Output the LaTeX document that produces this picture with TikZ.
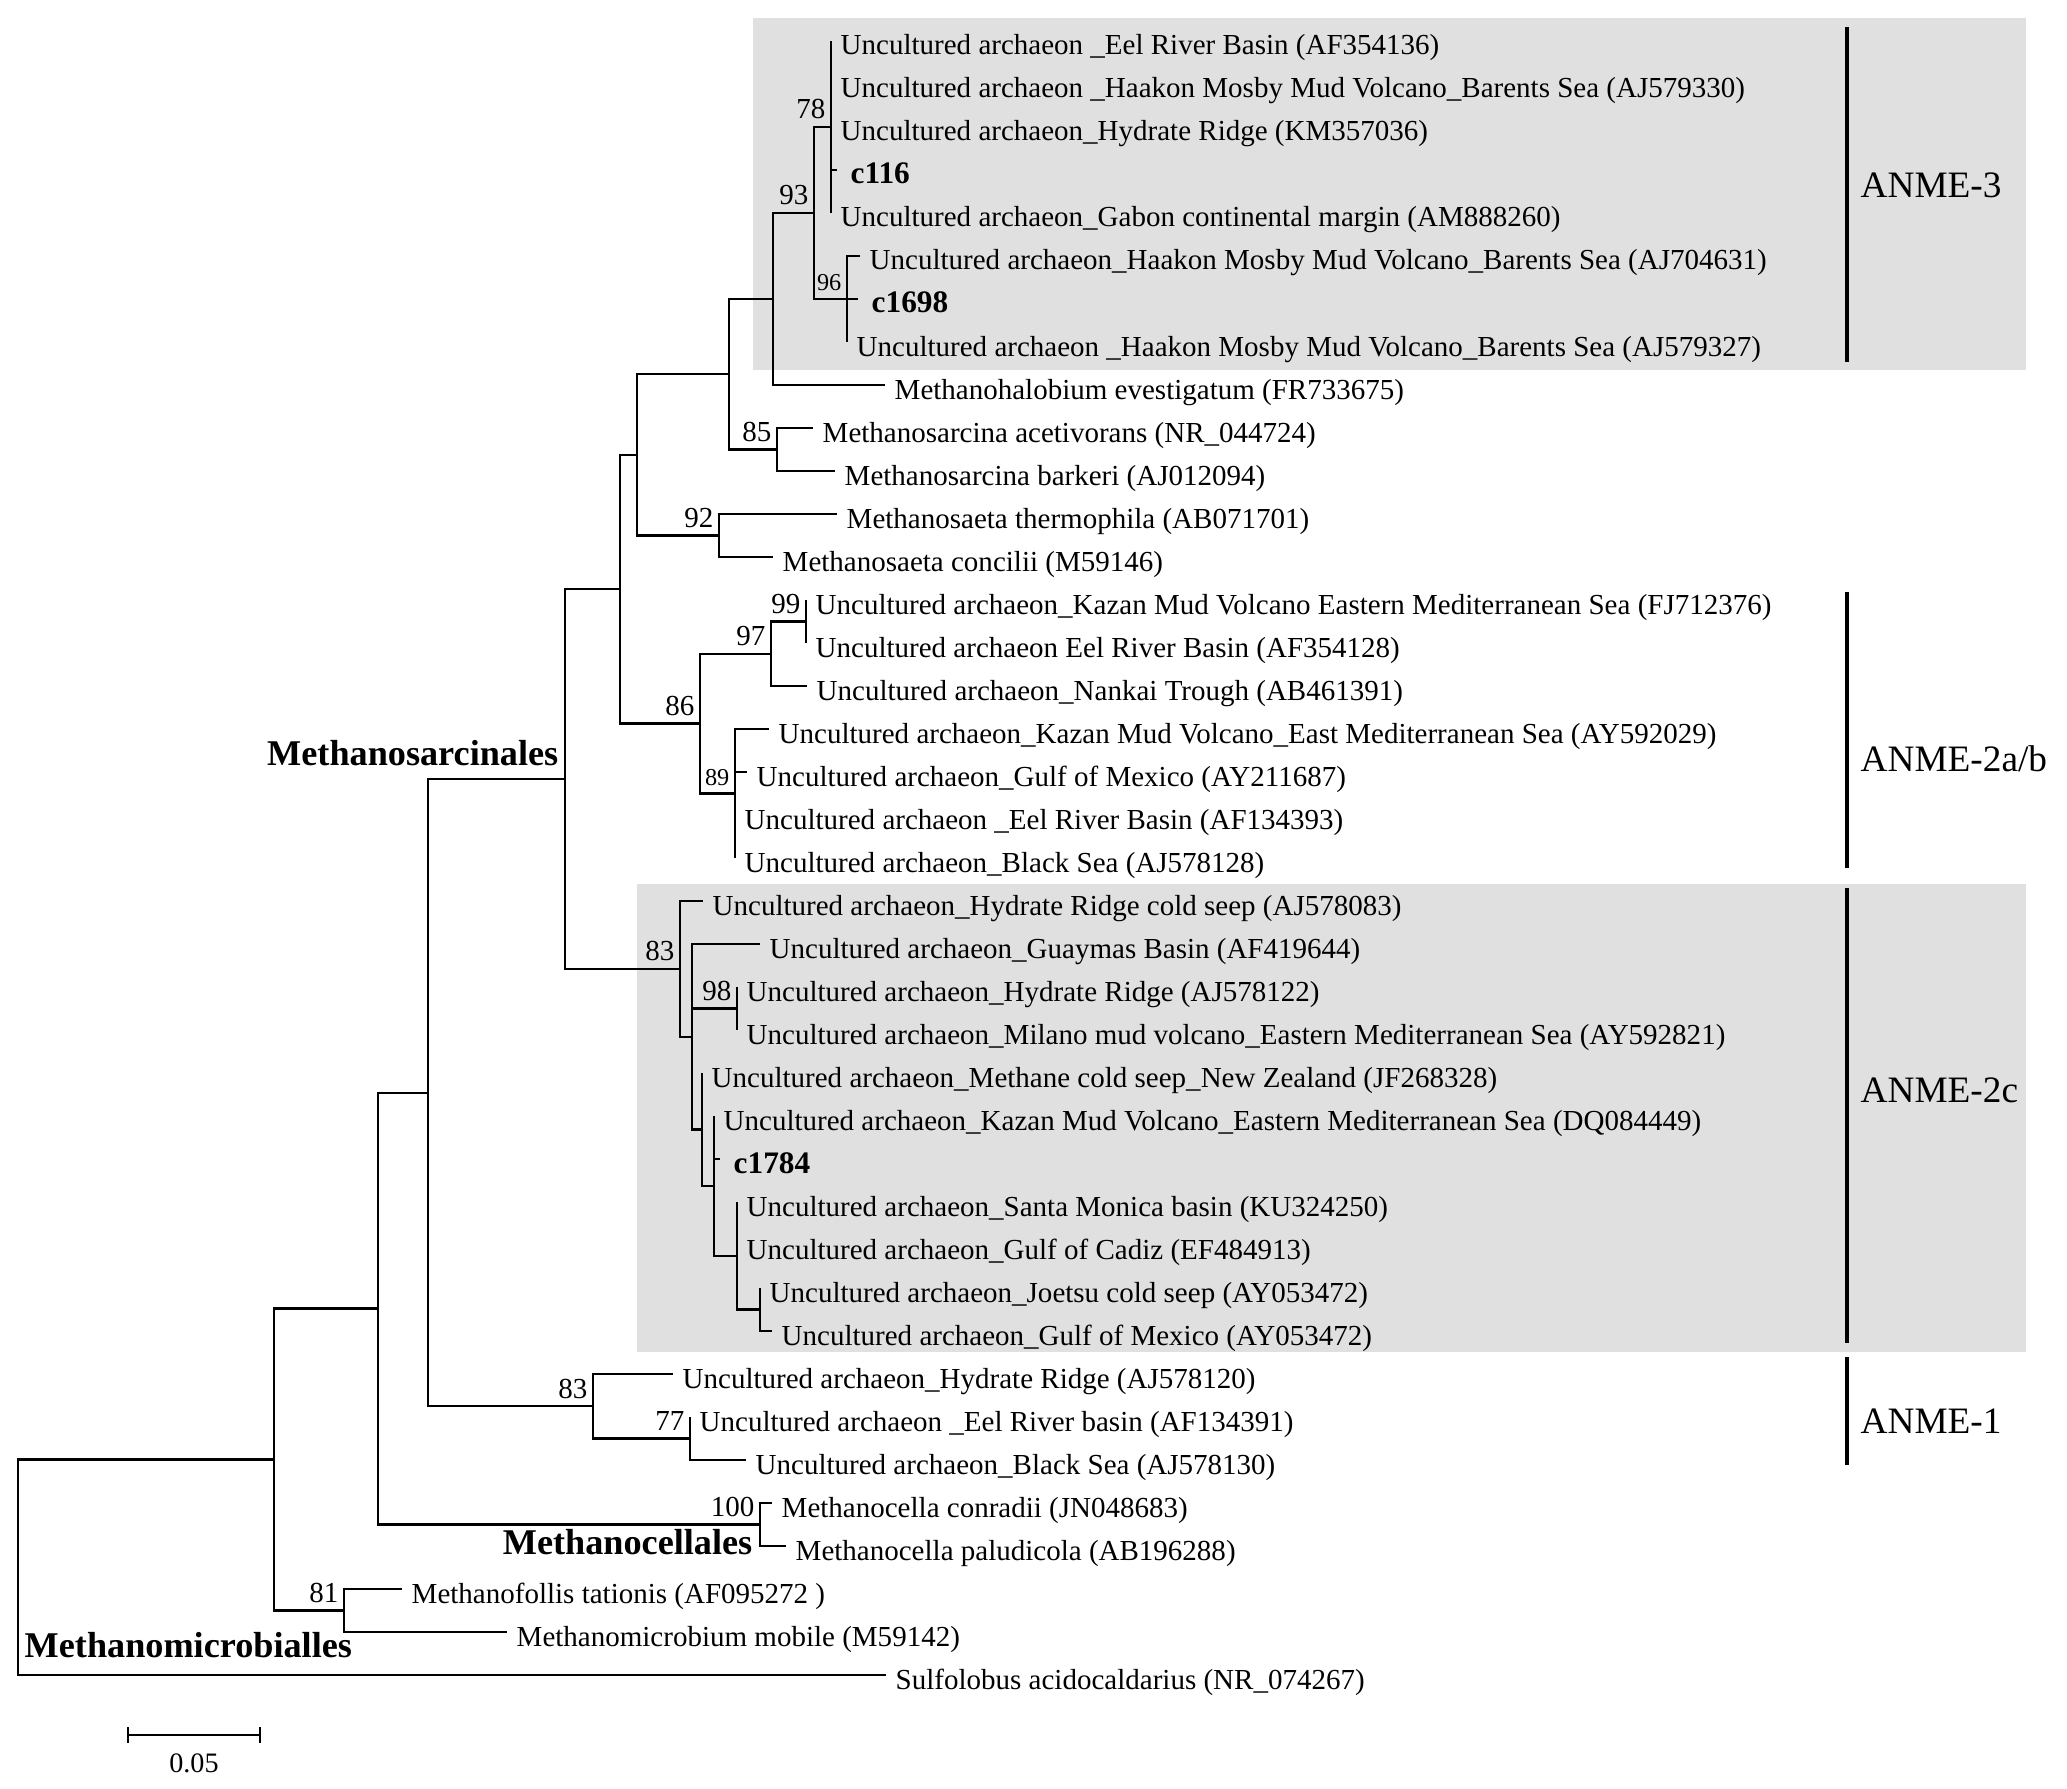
\documentclass[tikz,border=0pt]{standalone}
\usepackage{fontspec}
\setmainfont{Liberation Serif}
\definecolor{cladegray}{RGB}{224,224,224}

\tikzset{
  tree/.style={line width=0.65pt},
  bar/.style={line width=1.4pt},
  leaf/.style={anchor=base west, inner sep=0pt, xshift=0.09cm, yshift=-0.14cm,
    font=\fontsize{8.25}{10}\selectfont},
  ours/.style={leaf, xshift=0.04cm, font=\fontsize{8.9}{10}\selectfont\bfseries},
  boot/.style={anchor=base east, inner sep=0pt, xshift=-0.05cm, yshift=0.08cm,
    font=\fontsize{8.25}{10}\selectfont},
  smallboot/.style={boot, font=\fontsize{6.9}{8}\selectfont},
  order/.style={inner sep=0pt, font=\fontsize{10.3}{12}\selectfont\bfseries},
  group/.style={anchor=base west, inner sep=0pt, font=\fontsize{10.6}{12}\selectfont},
}

\begin{document}
\begin{tikzpicture}[x=0.01cm,y=-0.01cm]
  \useasboundingbox (0,0) rectangle (2067,1789);
  % shaded clades
  \fill[cladegray] (753,18) rectangle (2026,370);
  \fill[cladegray] (637,884) rectangle (2026,1352);

  % leaf tips, one row every 43 units
  \foreach \tx [count=\i] in {831,831,831,837,831,860,858,847,885,813,835,837,773,
      806,806,807,769,747,735,735,703,760,737,737,702,714,720,737,737,760,772,
      673,690,746,772,786,402,507,886}
    \coordinate (l\i) at (\tx,{41+43*(\i-1)});

  % inner nodes
  \coordinate (n78) at (831,127);
  \coordinate (n96) at (847,299);
  \coordinate (n93) at (814,213);
  \coordinate (nhal) at (773,299);
  \coordinate (n85) at (777,449.5);
  \coordinate (nsar) at (729,374.3);
  \coordinate (n92) at (719,535.5);
  \coordinate (nsae) at (637,454.9);
  \coordinate (n99) at (806,621.5);
  \coordinate (n97) at (771,653.8);
  \coordinate (n89) at (735,793.5);
  \coordinate (n86) at (700,723.6);
  \coordinate (nab) at (620,589.3);
  \coordinate (n98) at (737,1008.5);
  \coordinate (n760) at (760,1309.5);
  \coordinate (n737) at (737,1255.8);
  \coordinate (n714) at (714,1185.9);
  \coordinate (n702) at (702,1129.4);
  \coordinate (n692) at (692,1036.7);
  \coordinate (n83c) at (680,968.9);
  \coordinate (nmsar) at (565,779.1);
  \coordinate (n77) at (690,1438.5);
  \coordinate (n83a) at (593,1406.3);
  \coordinate (nanme) at (428,1092.7);
  \coordinate (n100) at (760,1524.5);
  \coordinate (ncel) at (378,1308.6);
  \coordinate (n81) at (344,1610.5);
  \coordinate (nmic) at (274,1459.6);
  \coordinate (root) at (18,1567.3);

  % branches
  \draw[tree] (n78) |- (l1) (n78) |- (l2) (n78) |- (l3) (n78) |- (l4) (n78) |- (l5);
  \draw[tree] (n96) |- (l6) (n96) |- (l7) (n96) |- (l8);
  \draw[tree] (n93) |- (n78) (n93) |- (n96);
  \draw[tree] (nhal) |- (n93) (nhal) |- (l9);
  \draw[tree] (n85) |- (l10) (n85) |- (l11);
  \draw[tree] (nsar) |- (nhal) (nsar) |- (n85);
  \draw[tree] (n92) |- (l12) (n92) |- (l13);
  \draw[tree] (nsae) |- (nsar) (nsae) |- (n92);
  \draw[tree] (n99) |- (l14) (n99) |- (l15);
  \draw[tree] (n97) |- (n99) (n97) |- (l16);
  \draw[tree] (n89) |- (l17) (n89) |- (l18) (n89) |- (l19) (n89) |- (l20);
  \draw[tree] (n86) |- (n97) (n86) |- (n89);
  \draw[tree] (nab) |- (nsae) (nab) |- (n86);
  \draw[tree] (n98) |- (l23) (n98) |- (l24);
  \draw[tree] (n760) |- (l30) (n760) |- (l31);
  \draw[tree] (n737) |- (l28) (n737) |- (l29) (n737) |- (n760);
  \draw[tree] (n714) |- (l26) (n714) |- (l27) (n714) |- (n737);
  \draw[tree] (n702) |- (l25) (n702) |- (n714);
  \draw[tree] (n692) |- (l22) (n692) |- (n98) (n692) |- (n702);
  \draw[tree] (n83c) |- (l21) (n83c) |- (n692);
  \draw[tree] (nmsar) |- (nab) (nmsar) |- (n83c);
  \draw[tree] (n77) |- (l33) (n77) |- (l34);
  \draw[tree] (n83a) |- (l32) (n83a) |- (n77);
  \draw[tree] (nanme) |- (nmsar) (nanme) |- (n83a);
  \draw[tree] (n100) |- (l35) (n100) |- (l36);
  \draw[tree] (ncel) |- (nanme) (ncel) |- (n100);
  \draw[tree] (n81) |- (l37) (n81) |- (l38);
  \draw[tree] (nmic) |- (ncel) (nmic) |- (n81);
  \draw[tree] (root) |- (nmic) (root) |- (l39);

  % taxa
  \node[leaf] (t1) at (l1) {Uncultured archaeon \_Eel River Basin (AF354136)};
  \node[leaf] (t2) at (l2) {Uncultured archaeon \_Haakon Mosby Mud Volcano\_Barents Sea (AJ579330)};
  \node[leaf] (t3) at (l3) {Uncultured archaeon\_Hydrate Ridge (KM357036)};
  \node[ours] (t4) at (l4) {c116};
  \node[leaf] (t5) at (l5) {Uncultured archaeon\_Gabon continental margin (AM888260)};
  \node[leaf] (t6) at (l6) {Uncultured archaeon\_Haakon Mosby Mud Volcano\_Barents Sea (AJ704631)};
  \node[ours] (t7) at (l7) {c1698};
  \node[leaf] (t8) at (l8) {Uncultured archaeon \_Haakon Mosby Mud Volcano\_Barents Sea (AJ579327)};
  \node[leaf] (t9) at (l9) {Methanohalobium evestigatum (FR733675)};
  \node[leaf] (t10) at (l10) {Methanosarcina acetivorans (NR\_044724)};
  \node[leaf] (t11) at (l11) {Methanosarcina barkeri (AJ012094)};
  \node[leaf] (t12) at (l12) {Methanosaeta thermophila (AB071701)};
  \node[leaf] (t13) at (l13) {Methanosaeta concilii (M59146)};
  \node[leaf] (t14) at (l14) {Uncultured archaeon\_Kazan Mud Volcano Eastern Mediterranean Sea (FJ712376)};
  \node[leaf] (t15) at (l15) {Uncultured archaeon Eel River Basin (AF354128)};
  \node[leaf] (t16) at (l16) {Uncultured archaeon\_Nankai Trough (AB461391)};
  \node[leaf] (t17) at (l17) {Uncultured archaeon\_Kazan Mud Volcano\_East Mediterranean Sea (AY592029)};
  \node[leaf] (t18) at (l18) {Uncultured archaeon\_Gulf of Mexico (AY211687)};
  \node[leaf] (t19) at (l19) {Uncultured archaeon \_Eel River Basin (AF134393)};
  \node[leaf] (t20) at (l20) {Uncultured archaeon\_Black Sea (AJ578128)};
  \node[leaf] (t21) at (l21) {Uncultured archaeon\_Hydrate Ridge cold seep (AJ578083)};
  \node[leaf] (t22) at (l22) {Uncultured archaeon\_Guaymas Basin (AF419644)};
  \node[leaf] (t23) at (l23) {Uncultured archaeon\_Hydrate Ridge (AJ578122)};
  \node[leaf] (t24) at (l24) {Uncultured archaeon\_Milano mud volcano\_Eastern Mediterranean Sea (AY592821)};
  \node[leaf] (t25) at (l25) {Uncultured archaeon\_Methane cold seep\_New Zealand (JF268328)};
  \node[leaf] (t26) at (l26) {Uncultured archaeon\_Kazan Mud Volcano\_Eastern Mediterranean Sea (DQ084449)};
  \node[ours] (t27) at (l27) {c1784};
  \node[leaf] (t28) at (l28) {Uncultured archaeon\_Santa Monica basin (KU324250)};
  \node[leaf] (t29) at (l29) {Uncultured archaeon\_Gulf of Cadiz (EF484913)};
  \node[leaf] (t30) at (l30) {Uncultured archaeon\_Joetsu cold seep (AY053472)};
  \node[leaf] (t31) at (l31) {Uncultured archaeon\_Gulf of Mexico (AY053472)};
  \node[leaf] (t32) at (l32) {Uncultured archaeon\_Hydrate Ridge (AJ578120)};
  \node[leaf] (t33) at (l33) {Uncultured archaeon \_Eel River basin (AF134391)};
  \node[leaf] (t34) at (l34) {Uncultured archaeon\_Black Sea (AJ578130)};
  \node[leaf] (t35) at (l35) {Methanocella conradii (JN048683)};
  \node[leaf] (t36) at (l36) {Methanocella paludicola (AB196288)};
  \node[leaf] (t37) at (l37) {Methanofollis tationis (AF095272 )};
  \node[leaf] (t38) at (l38) {Methanomicrobium mobile (M59142)};
  \node[leaf] (t39) at (l39) {Sulfolobus acidocaldarius (NR\_074267)};

  % bootstrap values
  \node[boot] (b78) at (n78) {78};
  \node[boot] (b93) at (n93) {93};
  \node[smallboot] (b96) at (n96) {96};
  \node[boot] (b85) at (n85) {85};
  \node[boot] (b92) at (n92) {92};
  \node[boot] (b99) at (n99) {99};
  \node[boot] (b97) at (n97) {97};
  \node[boot] (b86) at (n86) {86};
  \node[smallboot] (b89) at (n89) {89};
  \node[boot] (b83c) at (n83c) {83};
  \node[boot] (b98) at (n98) {98};
  \node[boot] (b83a) at (n83a) {83};
  \node[boot] (b77) at (n77) {77};
  \node[boot] (b100) at (n100) {100};
  \node[boot] (b81) at (n81) {81};

  % orders
  \node[order, anchor=base east] (osar) at ([xshift=-0.06cm, yshift=0.14cm]nmsar) {Methanosarcinales};
  \node[order, anchor=base east] (ocel) at ([xshift=-0.07cm, yshift=-0.295cm]n100) {Methanocellales};
  \node[order, anchor=base west] (omic) at ([xshift=0.06cm, yshift=-0.897cm]root) {Methanomicrobialles};

  % ANME groups
  \coordinate (g3top) at (1847,27);  \coordinate (g3bot) at (1847,362);
  \coordinate (g2abtop) at (1847,592); \coordinate (g2abbot) at (1847,868);
  \coordinate (g2ctop) at (1847,888); \coordinate (g2cbot) at (1847,1343);
  \coordinate (g1top) at (1847,1357); \coordinate (g1bot) at (1847,1465);
  \draw[bar] (g3top) -- (g3bot);
  \draw[bar] (g2abtop) -- (g2abbot);
  \draw[bar] (g2ctop) -- (g2cbot);
  \draw[bar] (g1top) -- (g1bot);
  \node[group] (g3) at (1860,198) {ANME-3};
  \node[group] (g2ab) at (1860,772) {ANME-2a/b};
  \node[group] (g2c) at (1860,1102) {ANME-2c};
  \node[group] (g1) at (1860,1433) {ANME-1};

  % scale bar
  \coordinate (sa) at (128,1735);
  \coordinate (sb) at (260,1735);
  \draw[tree] (sa) -- (sb);
  \draw[tree] ([yshift=0.08cm]sa) -- ([yshift=-0.08cm]sa);
  \draw[tree] ([yshift=0.08cm]sb) -- ([yshift=-0.08cm]sb);
  \node[inner sep=0pt, font=\fontsize{8}{10}\selectfont] (slabel) at (194,1763) {0.05};
\end{tikzpicture}
\end{document}
